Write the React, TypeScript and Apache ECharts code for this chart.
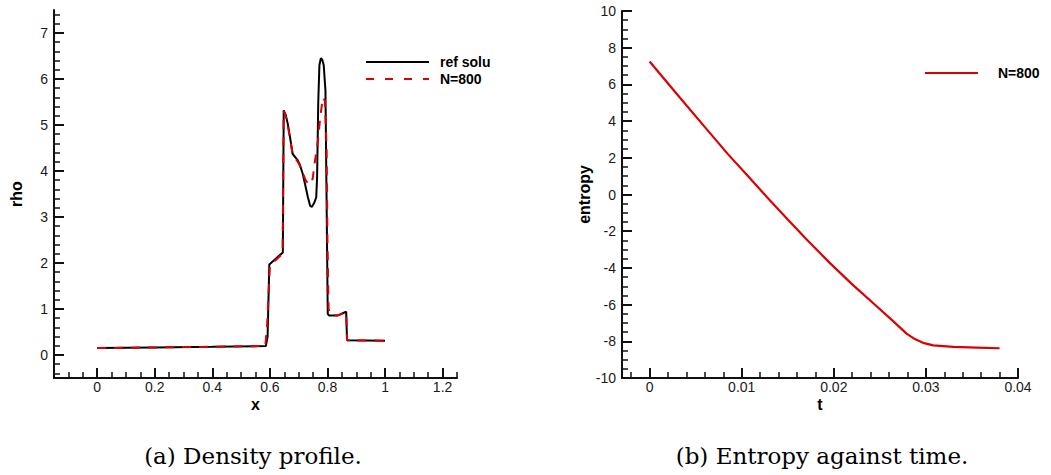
import React, { useEffect, useRef } from "react";
import * as echarts from "echarts";

// ---- Data: density profile (left panel) ----
const refX = [0, 0.2, 0.4, 0.586, 0.592, 0.598, 0.645, 0.648, 0.655, 0.662, 0.670, 0.679, 0.688, 0.697, 0.705, 0.714, 0.723, 0.732, 0.740, 0.746, 0.755, 0.761, 0.764, 0.768, 0.772, 0.777, 0.782, 0.787, 0.793, 0.801, 0.806, 0.836, 0.865, 0.868, 1.0];
const refRho = [0.15, 0.165, 0.18, 0.195, 0.4, 1.97, 2.23, 5.32, 5.22, 5.03, 4.73, 4.37, 4.3, 4.23, 4.12, 3.94, 3.69, 3.43, 3.24, 3.22, 3.32, 3.43, 3.86, 5.5, 6.3, 6.45, 6.42, 6.3, 5.75, 0.89, 0.86, 0.86, 0.94, 0.32, 0.31];

const numX = [0, 0.2, 0.4, 0.584, 0.59, 0.6, 0.644, 0.648, 0.655, 0.662, 0.670, 0.679, 0.688, 0.697, 0.705, 0.714, 0.725, 0.734, 0.743, 0.749, 0.755, 0.767, 0.775, 0.784, 0.791, 0.797, 0.800, 0.804, 0.81, 0.836, 0.865, 0.868, 1.0];
const numRho = [0.15, 0.165, 0.18, 0.195, 0.6, 1.95, 2.2, 5.3, 5.2, 5.0, 4.7, 4.37, 4.28, 4.2, 4.1, 3.96, 3.79, 3.72, 3.72, 3.85, 4.15, 4.66, 5.17, 5.6, 5.53, 4.5, 2.5, 1.0, 0.87, 0.86, 0.93, 0.32, 0.31];

// ---- Data: entropy against time (right panel) ----
const timeT = [0, 0.003, 0.006, 0.0085, 0.0105, 0.013, 0.015, 0.017, 0.0195, 0.022, 0.0245, 0.0265, 0.0279, 0.0288, 0.0298, 0.0308, 0.033, 0.0355, 0.038];
const entropy = [7.25, 5.45, 3.67, 2.2, 1.1, -0.29, -1.36, -2.42, -3.7, -4.9, -6.02, -6.93, -7.58, -7.88, -8.1, -8.22, -8.3, -8.34, -8.38];

// ---- Tick labels ----
const rhoXTicks = [0, 0.2, 0.4, 0.6, 0.8, 1, 1.2];
const rhoYTicks = [0, 1, 2, 3, 4, 5, 6, 7];
const tTicks = [0, 0.01, 0.02, 0.03, 0.04];
const entYTicks = [-10, -8, -6, -4, -2, 0, 2, 4, 6, 8, 10];

const legendLeft = ["ref solu", "N=800"];
const legendRight = ["N=800"];
const captions = ["(a) Density profile.", "(b) Entropy against time."];

function minors(min: number, max: number, step: number, majors: number[]) {
  const out: number[] = [];
  const n = Math.round((max - min) / step);
  for (let i = 0; i <= n; i++) {
    const v = +(min + i * step).toFixed(6);
    if (!majors.some((m) => Math.abs(m - v) < 1e-9)) out.push(v);
  }
  return out;
}

const RED = "#dc0000";
const AX = "#111";
const labelFont = { fontFamily: "Liberation Sans, Arial, sans-serif", fontSize: 14, color: "#1a1a1a" };
const nameFont = { fontFamily: "Liberation Sans, Arial, sans-serif", fontSize: 16, fontWeight: "bold", color: "#000" };

function majorAxis(gridIndex: number, min: number, max: number, ticks: number[], name: string, nameGap: number, margin: number) {
  return {
    type: "value",
    gridIndex,
    min,
    max,
    name,
    nameLocation: "middle",
    nameGap,
    nameMoveOverlap: false,
    nameTextStyle: nameFont,
    axisLine: { show: true, onZero: false, lineStyle: { color: AX, width: 2 } },
    axisTick: { show: true, inside: true, length: 10, customValues: ticks, lineStyle: { color: AX, width: 2 } },
    axisLabel: { show: true, customValues: ticks, margin, ...labelFont },
    splitLine: { show: false },
    minorTick: { show: false },
  };
}

function minorAxis(gridIndex: number, min: number, max: number, vals: number[], position: string) {
  return {
    type: "value",
    gridIndex,
    min,
    max,
    position,
    axisLine: { show: false, onZero: false },
    axisTick: { show: true, inside: true, length: 6, customValues: vals, lineStyle: { color: AX, width: 1.5 } },
    axisLabel: { show: false },
    splitLine: { show: false },
  };
}

export default function App() {
  const ref = useRef<HTMLDivElement>(null);
  useEffect(() => {
    if (!ref.current) return;
    const chart = echarts.init(ref.current, null, { renderer: "svg" });
    const lx = -0.15, hx = 1.25, ly = -0.5, hy = 7.5;
    const lt = -0.003, ht = 0.04, le = -10, he = 10;
    const legendFont = { fontFamily: "Liberation Sans, Arial, sans-serif", fontSize: 14, fontWeight: "bold", fill: "#000", align: "left", verticalAlign: "middle" };
    const capFont = { fontFamily: "DejaVu Serif, serif", fontSize: 23, fill: "#000", align: "center", verticalAlign: "middle" };
    const option: any = {
      animation: false,
      backgroundColor: "#fff",
      grid: [
        { left: 54, top: 10, width: 403, height: 368 },
        { left: 622, top: 11, width: 396, height: 367 },
      ],
      xAxis: [
        { ...majorAxis(0, lx, hx, rhoXTicks, "x", 18, 2), position: "bottom" },
        minorAxis(0, lx, hx, minors(-0.15, 1.25, 0.05, rhoXTicks), "bottom"),
        { ...majorAxis(1, lt, ht, tTicks, "t", 18, 2), position: "bottom" },
        minorAxis(1, lt, ht, minors(-0.002, 0.04, 0.002, tTicks), "bottom"),
      ],
      yAxis: [
        { ...majorAxis(0, ly, hy, rhoYTicks, "rho", 30, 6), position: "left" },
        minorAxis(0, ly, hy, minors(-0.4, 7.4, 0.2, rhoYTicks), "left"),
        { ...majorAxis(1, le, he, entYTicks, "entropy", 30, 6), position: "left" },
        minorAxis(1, le, he, minors(-10, 10, 0.5, entYTicks), "left"),
      ],
      series: [
        {
          name: legendLeft[0],
          type: "line",
          xAxisIndex: 0,
          yAxisIndex: 0,
          symbol: "none",
          data: refX.map((x, i) => [x, refRho[i]]),
          lineStyle: { color: "#000", width: 2 },
          z: 3,
        },
        {
          name: legendLeft[1],
          type: "line",
          xAxisIndex: 0,
          yAxisIndex: 0,
          symbol: "none",
          data: numX.map((x, i) => [x, numRho[i]]),
          lineStyle: { color: RED, width: 2, type: [9, 8] },
          z: 4,
        },
        {
          name: legendRight[0],
          type: "line",
          xAxisIndex: 2,
          yAxisIndex: 2,
          symbol: "none",
          data: timeT.map((t, i) => [t, entropy[i]]),
          lineStyle: { color: RED, width: 2.2 },
          z: 3,
        },
      ],
      graphic: [
        { type: "line", shape: { x1: 366, y1: 62, x2: 429, y2: 62 }, style: { stroke: "#000", lineWidth: 2 } },
        { type: "line", shape: { x1: 366, y1: 79, x2: 429, y2: 79 }, style: { stroke: RED, lineWidth: 2, lineDash: [8, 11] } },
        { type: "text", x: 440, y: 62, style: { text: legendLeft[0], ...legendFont } },
        { type: "text", x: 440, y: 79, style: { text: legendLeft[1], ...legendFont } },
        { type: "line", shape: { x1: 925, y1: 73, x2: 978, y2: 73 }, style: { stroke: RED, lineWidth: 2 } },
        { type: "text", x: 998, y: 73, style: { text: legendRight[0], ...legendFont } },
        { type: "text", x: 253, y: 456, style: { text: captions[0], ...capFont } },
        { type: "text", x: 822, y: 456, style: { text: captions[1], ...capFont } },
      ],
    };
    chart.setOption(option);
    return () => chart.dispose();
  }, []);
  return <div ref={ref} style={{ position: "absolute", left: 0, top: 0, width: 1051, height: 475 }} />;
}
